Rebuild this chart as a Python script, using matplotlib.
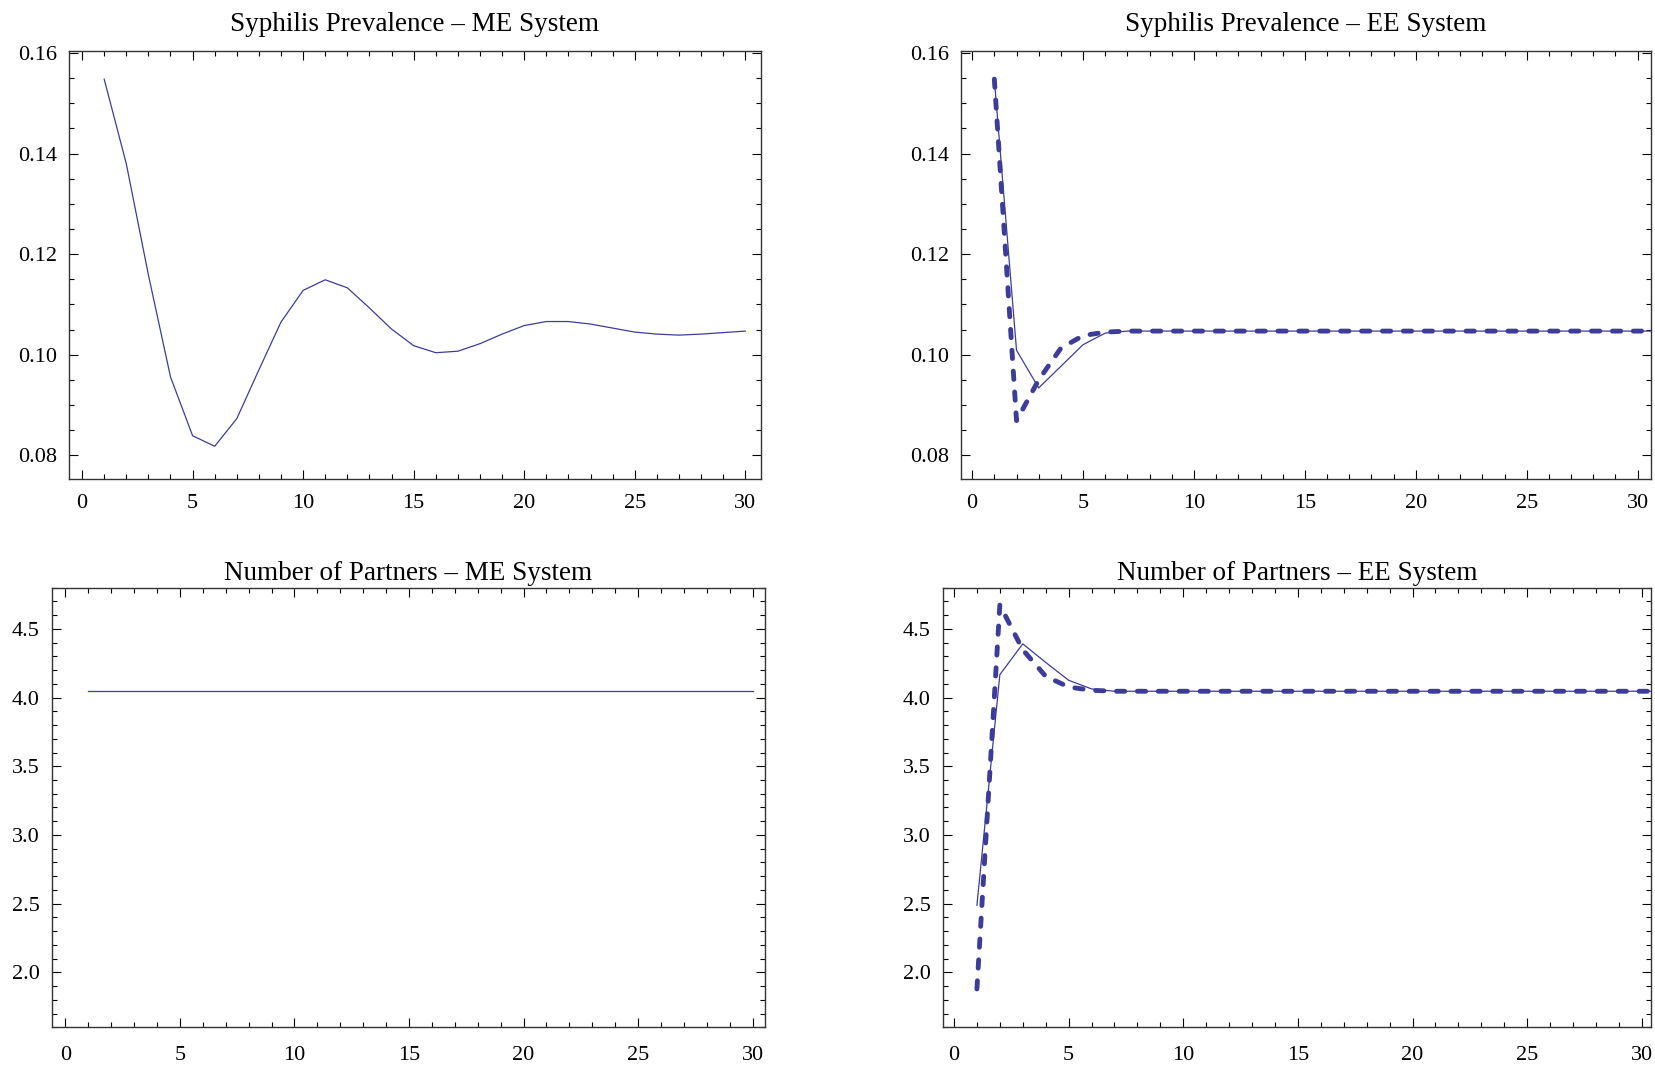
import matplotlib
matplotlib.use("Agg")
import matplotlib.pyplot as plt
from matplotlib.ticker import MultipleLocator

plt.rcParams['font.family'] = ['Liberation Serif', 'DejaVu Serif']

# time steps
t_me = list(range(1, 31))
t_ee = list(range(1, 32))

# syphilis prevalence, ME system
prev_me = [0.1548, 0.1380, 0.1159, 0.0956, 0.0839, 0.0818, 0.0873, 0.0970, 0.1065, 0.1128,
           0.1149, 0.1133, 0.1093, 0.1051, 0.1018, 0.1004, 0.1007, 0.1022, 0.1041, 0.1058,
           0.1066, 0.1066, 0.1061, 0.1053, 0.1045, 0.1041, 0.1039, 0.1041, 0.1044, 0.1047]

# syphilis prevalence, EE system (solid and dashed runs)
prev_ee_solid = [0.1548, 0.1009, 0.0934, 0.0977, 0.1020, 0.1043, 0.1047] + [0.1047] * 24
prev_ee_dash = [0.1548, 0.0869, 0.0950, 0.1013, 0.1038, 0.1045, 0.1047] + [0.1047] * 24

# number of partners, ME system
partners_me = [4.046] * 30

# number of partners, EE system
partners_ee_solid = [2.488, 4.167, 4.391, 4.256, 4.126, 4.063, 4.046] + [4.046] * 24
partners_ee_dash = [1.879, 4.674, 4.348, 4.155, 4.077, 4.053, 4.046] + [4.046] * 24

line_color = '#3d3d99'

fig = plt.figure(figsize=(16.55, 10.65), dpi=100)

ax1 = fig.add_axes([0.0417, 0.5498, 0.4181, 0.4019])
ax2 = fig.add_axes([0.5807, 0.5498, 0.4167, 0.4019])
ax3 = fig.add_axes([0.0312, 0.0354, 0.4312, 0.4128])
ax4 = fig.add_axes([0.5695, 0.0354, 0.4281, 0.4128])

ax1.plot(t_me, prev_me, color=line_color, lw=0.9)

ax2.plot(t_ee, prev_ee_solid, color=line_color, lw=0.9)
ax2.plot(t_ee, prev_ee_dash, color=line_color, lw=3.5, dashes=(1.7, 2.6), dash_capstyle='round')

ax3.plot(t_me, partners_me, color=line_color, lw=0.9)

ax4.plot(t_ee, partners_ee_solid, color=line_color, lw=0.9)
ax4.plot(t_ee, partners_ee_dash, color=line_color, lw=3.5, dashes=(1.7, 2.6), dash_capstyle='round')

titles = ["Syphilis Prevalence – ME System", "Syphilis Prevalence – EE System",
          "Number of Partners – ME System", "Number of Partners – EE System"]

for ax, title in zip([ax1, ax2, ax3, ax4], titles):
    top_row = ax in (ax1, ax2)
    ax.set_title(title, fontsize=19.5, pad=15 if top_row else 5.5)
    ax.xaxis.set_major_locator(MultipleLocator(5))
    ax.xaxis.set_minor_locator(MultipleLocator(1))
    ax.tick_params(which='both', direction='in', top=True, right=True, labelsize=16, width=0.8)
    ax.tick_params(which='major', length=6.2)
    ax.tick_params(which='minor', length=3.8)
    ax.tick_params(axis='y', pad=8.5)
    ax.tick_params(axis='x', pad=10.5 if top_row else 13.5)
    for s in ax.spines.values():
        s.set_color('#333333')
        s.set_linewidth(1.0)

ax1.set_xlim(-0.59, 30.71)
ax2.set_xlim(-0.5, 30.59)
ax3.set_xlim(-0.6, 30.55)
ax4.set_xlim(-0.5, 30.4)

for ax in (ax1, ax2):
    ax.set_ylim(0.0752, 0.1603)
    ax.yaxis.set_major_locator(MultipleLocator(0.02))
    ax.yaxis.set_minor_locator(MultipleLocator(0.005))
    ax.yaxis.set_major_formatter(plt.FormatStrFormatter('%.2f'))

for ax in (ax3, ax4):
    ax.set_ylim(1.60, 4.80)
    ax.yaxis.set_major_locator(MultipleLocator(0.5))
    ax.yaxis.set_minor_locator(MultipleLocator(0.1))
    ax.yaxis.set_major_formatter(plt.FormatStrFormatter('%.1f'))

fig.savefig('out.png', dpi=100)
